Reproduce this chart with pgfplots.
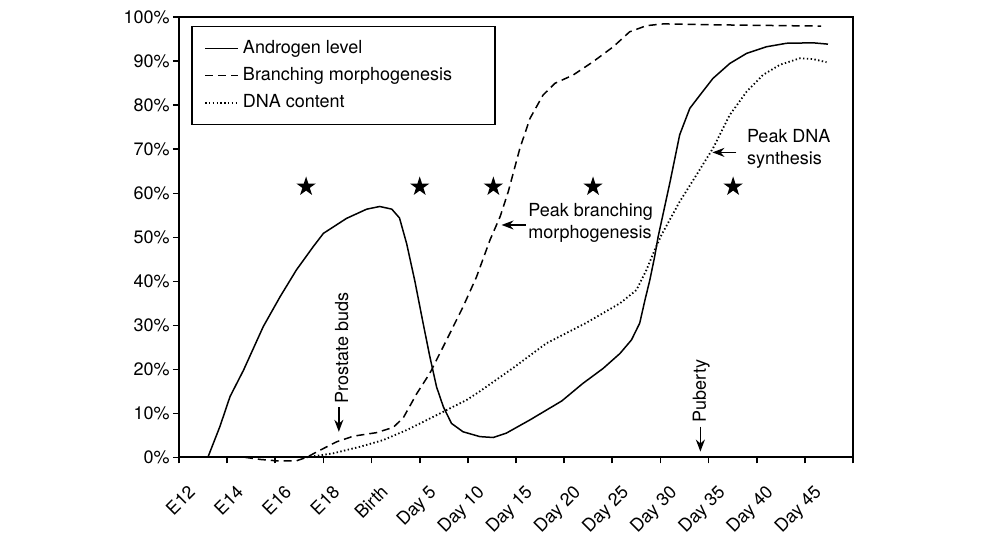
\documentclass[border=0pt]{standalone}
\usepackage{fontspec}
\setmainfont{TeX Gyre Heros}
\usepackage{pgfplots}
\pgfplotsset{compat=1.18}
\usetikzlibrary{arrows.meta}
\pgfdeclareplotmark{fstar}{%
  \pgfpathmoveto{\pgfpointpolar{90}{\pgfplotmarksize}}%
  \pgfpathlineto{\pgfpointpolar{126}{0.382\pgfplotmarksize}}%
  \pgfpathlineto{\pgfpointpolar{162}{\pgfplotmarksize}}%
  \pgfpathlineto{\pgfpointpolar{198}{0.382\pgfplotmarksize}}%
  \pgfpathlineto{\pgfpointpolar{234}{\pgfplotmarksize}}%
  \pgfpathlineto{\pgfpointpolar{270}{0.382\pgfplotmarksize}}%
  \pgfpathlineto{\pgfpointpolar{306}{\pgfplotmarksize}}%
  \pgfpathlineto{\pgfpointpolar{342}{0.382\pgfplotmarksize}}%
  \pgfpathlineto{\pgfpointpolar{18}{\pgfplotmarksize}}%
  \pgfpathlineto{\pgfpointpolar{54}{0.382\pgfplotmarksize}}%
  \pgfpathclose\pgfusepathqfill}
\newcommand{\f}{\fontsize{9bp}{11bp}\selectfont}
\begin{document}
\begin{tikzpicture}
\useasboundingbox (-89.5bp,-45.85bp) rectangle (410.5bp,228.65bp);
\begin{axis}[
  at={(0,0)}, anchor=south west,
  scale only axis, width=337bp, height=220bp,
  xmin=0, xmax=14, ymin=0, ymax=100,
  clip=false,
  axis line style={line width=1bp},
  tick style={line width=0.8bp, black},
  tick align=outside, major tick length=3bp,
  tick pos=left,
  xtick={0,...,14},
  xticklabels={E12,E14,E16,E18,Birth,Day 5,Day 10,Day 15,Day 20,Day 25,Day 30,Day 35,Day 40,Day 45,{}},
  xticklabel style={xshift=4bp, yshift=-8bp, rotate=45, anchor=north east, inner sep=1.5bp},
  ytick={0,10,...,100},
  yticklabels={0\%,10\%,20\%,30\%,40\%,50\%,60\%,70\%,80\%,90\%,100\%},
  yticklabel style={inner sep=1.5bp},
  tick label style={font=\f},
  legend style={at={(axis description cs:0.0185,0.981)}, anchor=north west,
    draw=black, line width=0.75bp, inner xsep=6bp, inner ysep=5bp,
    row sep=1.5bp, font=\f},
  legend cell align=left,
  legend image code/.code={\draw[#1] (0bp,0bp) -- (16.5bp,0bp);},
]
\addplot[black, line width=0.75bp] coordinates {
(0.6,0) (0.85,7.0) (1.06,13.8) (1.34,19.8) (1.75,29.7) (2.10,36.5) (2.44,42.6)
(2.79,47.9) (3.00,50.9) (3.48,54.3) (3.90,56.4) (4.17,57.0) (4.42,56.4)
(4.58,54.4) (4.73,48.5) (4.90,40.0) (5.07,30.5) (5.21,22.9) (5.35,16.0)
(5.49,11.5) (5.66,7.7) (5.90,5.8) (6.25,4.7) (6.53,4.5) (6.80,5.5) (7.29,8.5)
(7.95,12.8) (8.39,16.8) (8.81,20.2) (9.16,23.6) (9.40,26.7) (9.57,30.5)
(9.68,35.8) (9.78,40.3) (9.88,45.6) (9.95,50.0) (10.20,62.6) (10.40,73.3)
(10.61,79.3) (10.82,82.3) (11.09,86.1) (11.44,89.5) (11.79,91.8) (12.20,93.3)
(12.62,94.1) (13.17,94.2) (13.48,93.9)};
\addlegendentry{\makebox[118bp][l]{Androgen level}}
\addplot[black, line width=0.75bp, dash pattern=on 4bp off 2.5bp] coordinates {
(1.37,0) (1.7,-0.5) (2.03,-0.8) (2.44,-0.8) (2.65,0) (3.0,2.0) (3.27,3.5)
(3.62,4.8) (4.1,5.6) (4.45,6.8) (4.66,9.0) (4.94,14.5) (5.21,19.1) (5.56,26.7)
(5.90,34.2) (6.18,41.0) (6.46,49.4) (6.67,54.7) (6.84,60.4) (7.08,70.2)
(7.29,77.0) (7.56,82.3) (7.81,85.0) (8.19,86.9) (8.60,89.9) (9.02,93.3)
(9.36,96.7) (9.71,98.1) (10.06,98.5) (11.09,98.3) (13.34,98.0)};
\addlegendentry{\makebox[118bp][l]{Branching morphogenesis}}
\addplot[black, line width=0.9bp, dash pattern=on 0.7bp off 1.2bp] coordinates {
(2.65,0) (3.2,0.9) (3.76,2.4) (4.24,3.9) (4.73,6.2) (5.28,9.2) (5.97,13.0)
(6.25,15.0) (6.94,20.3) (7.63,25.9) (8.45,30.5) (9.16,35.0) (9.50,38.0)
(9.71,42.6) (9.88,47.1) (10.02,50.5) (10.40,58.1) (10.75,64.2) (11.09,70.2)
(11.44,77.8) (11.79,83.1) (12.13,86.9) (12.48,89.2) (12.9,90.7) (13.17,90.5)
(13.45,89.8)};
\addlegendentry{\makebox[118bp][l]{DNA content}}
\addplot[only marks, mark=fstar, mark size=5.1bp, black, forget plot] coordinates {
(2.64,61.5) (5.0,61.5) (6.53,61.5) (8.6,61.5) (11.51,61.5)};
\draw[-{Stealth[length=6bp,width=4.5bp]}, line width=0.75bp] (axis cs:3.32,11.4) -- (axis cs:3.32,5.8);
\node[rotate=90, font=\f, inner sep=0] at (axis cs:3.38,24.8) {Prostate buds};
\draw[-{Stealth[length=6bp,width=4.5bp]}, line width=0.75bp] (axis cs:10.83,7.0) -- (axis cs:10.83,1.3);
\node[rotate=90, font=\f, inner sep=0] at (axis cs:10.85,15.1) {Puberty};
\draw[-{Stealth[length=6bp,width=4.5bp]}, line width=0.75bp] (axis cs:7.20,52.8) -- (axis cs:6.70,52.8);
\node[anchor=west, align=left, font=\f, inner sep=0] at (axis cs:7.25,53.2) {Peak branching\\morphogenesis};
\draw[-{Stealth[length=6bp,width=4.5bp]}, line width=0.75bp] (axis cs:11.58,69.3) -- (axis cs:11.08,69.3);
\node[anchor=west, align=left, font=\f, inner sep=0] at (axis cs:11.79,70.1) {Peak DNA\\synthesis};
\end{axis}
\end{tikzpicture}
\end{document}
